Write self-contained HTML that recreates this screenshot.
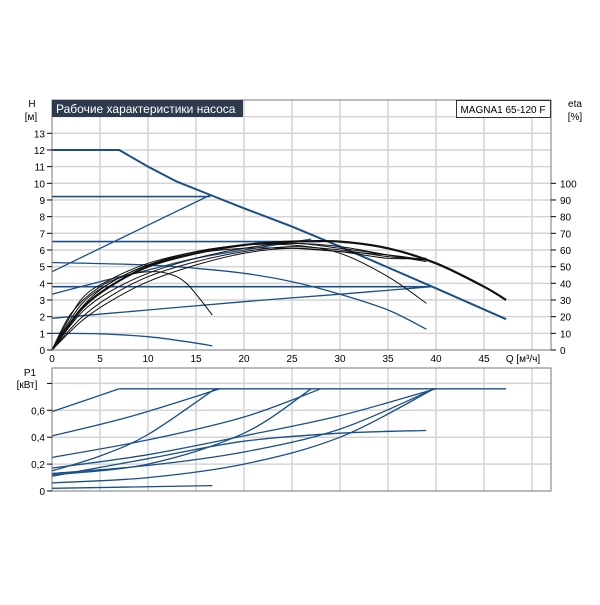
<!DOCTYPE html>
<html><head><meta charset="utf-8"><style>
body{margin:0;background:#fff;}
svg{font-family:"Liberation Sans","Noto Sans CJK SC",sans-serif;}
</style></head><body>
<svg id="c" width="600" height="600" viewBox="0 0 600 600"></svg>
<script>
const qTicks=[0,5,10,15,20,25,30,35,40,45];
const hTicks=[0,1,2,3,4,5,6,7,8,9,10,11,12,13];
const etaTicks=[0,10,20,30,40,50,60,70,80,90,100];
const pTicks=[0,0.2,0.4,0.6,0.8];
const pTickLabels=["0","0,2","0,4","0,6",""];
// head curves [Q,H]
const hMax=[[0,12],[7,12],[10,11],[13,10.1],[16.5,9.3],[20,8.5],[25,7.4],[30,6.2],[35,4.95],[40,3.7],[47.3,1.85]];
const hConst1=[[0,9.2],[16.5,9.2]];
const hProp1=[[0,4.7],[16.5,9.3]];
const hConst2=[[0,6.5],[28,6.5]];
const hProp2=[[0,3.35],[5,4.1],[10,4.8],[15,5.5],[20,6.0],[27,6.65]];
const hConst3=[[0,3.8],[39.5,3.8]];
const hProp3=[[0,1.9],[10,2.4],[20,2.9],[30,3.35],[39.5,3.8]];
const hMid=[[0,5.25],[10,5.1],[15,4.9],[20,4.6],[25,4.1],[30,3.35],[35,2.4],[39,1.25]];
const hMin=[[0,1.0],[5,0.97],[10,0.8],[14,0.5],[16.7,0.25]];
const headSeries=[hMax,hConst1,hProp1,hConst2,hProp2,hConst3,hProp3,hMid,hMin];
const headWidths=[2,1.6,1.3,1.6,1.3,1.6,1.3,1.3,1.3];
// efficiency curves [Q,eta%]
const etaMain=[[0,0],[3,24],[6,38],[10,50],[15,58],[20,63],[25,65],[30,65],[35,61],[40,52],[45,38],[47.3,30]];
const etaShort=[[0,0],[2,22],[5,38],[8,45],[10,47],[12,46],[14,40],[16.7,21]];
const etaEnd39=[[0,0],[3,25],[6,40],[10,51],[15,59],[20,63],[25,63],[30,58],[35,44],[39,28]];
const etaA=[[0,0],[3,27],[6,40],[10,51],[15,58],[20,61],[25,61],[30,59],[35,57],[39,54]];
const etaB=[[0,0],[3,22],[6,35],[10,46],[15,55],[20,61],[25,64],[30,61],[35,57],[39,54]];
const etaC=[[0,0],[3,19],[6,32],[10,44],[15,53],[20,59],[25,62],[30,60],[35,56],[39,54]];
const etaD=[[0,0],[3,17],[6,29],[10,41],[15,51],[20,58],[25,61],[30,59],[35,55],[39,55]];
const etaE=[[0,0],[3,30],[6,42],[10,52],[15,59],[20,63],[25,64],[30,62],[35,57],[39,53]];
const etaSeries=[etaMain,etaShort,etaEnd39,etaA,etaB,etaC,etaD,etaE];
const etaWidths=[2.2,1,1,1,1,1,1,1];
// power curves [Q,P1 kW]
const pFlat=[[7,0.76],[47.3,0.76]];
const p1=[[0,0.59],[7,0.76]];
const p2=[[0,0.41],[8,0.55],[17.5,0.76]];
const p3=[[0,0.15],[5,0.26],[10,0.42],[17,0.76]];
const p4=[[0,0.25],[10,0.38],[20,0.55],[28,0.76]];
const p5=[[0,0.12],[10,0.2],[20,0.43],[27,0.76]];
const p6=[[0,0.17],[10,0.27],[20,0.41],[30,0.56],[40,0.76]];
const p7=[[0,0.13],[10,0.19],[20,0.29],[30,0.46],[39.8,0.76]];
const p8=[[0,0.06],[10,0.1],[20,0.2],[30,0.4],[39.8,0.76]];
const p9=[[0,0.11],[10,0.24],[20,0.37],[30,0.43],[39,0.45]];
const p10=[[0,0.02],[16.7,0.04]];
const powerSeries=[pFlat,p1,p2,p3,p4,p5,p6,p7,p8,p9,p10];

const X0=52,XS=9.6;
const xQ=q=>X0+q*XS;
const yH=h=>350-h*16.67;
const yE=e=>350-e*1.667;
const yP=p=>491-p*134.5;
const svg=document.getElementById('c');
const NS='http://www.w3.org/2000/svg';
function mk(tag,attrs,parent){const e=document.createElementNS(NS,tag);for(const k in attrs)e.setAttribute(k,attrs[k]);(parent||svg).appendChild(e);return e;}
function txt(x,y,s,anchor,size,fill){const t=mk('text',{x:x,y:y,'text-anchor':anchor||'start','font-size':size||10,fill:fill||'#000'});t.textContent=s;return t;}
function linear(pts,fx,fy){return pts.map((p,i)=>(i?'L':'M')+fx(p[0]).toFixed(1)+','+fy(p[1]).toFixed(1)).join(' ');}
function smooth(pts,fx,fy){let d='M'+fx(pts[0][0]).toFixed(1)+','+fy(pts[0][1]).toFixed(1);
 for(let i=0;i<pts.length-1;i++){const p0=pts[Math.max(0,i-1)],p1=pts[i],p2=pts[i+1],p3=pts[Math.min(pts.length-1,i+2)];
  const c1x=fx(p1[0])+(fx(p2[0])-fx(p0[0]))/6,c1y=fy(p1[1])+(fy(p2[1])-fy(p0[1]))/6;
  const c2x=fx(p2[0])-(fx(p3[0])-fx(p1[0]))/6,c2y=fy(p2[1])-(fy(p3[1])-fy(p1[1]))/6;
  d+=' C'+c1x.toFixed(1)+','+c1y.toFixed(1)+' '+c2x.toFixed(1)+','+c2y.toFixed(1)+' '+fx(p2[0]).toFixed(1)+','+fy(p2[1]).toFixed(1);}
 return d;}

// top plot
const gTop=mk('g',{});


mk('rect',{x:52,y:100,width:499,height:250,fill:'#fff'},gTop);
for(let q=5;q<=50;q+=5){const l=mk('line',{x1:xQ(q),x2:xQ(q),y1:100,y2:350,stroke:'#d4d4d4','stroke-width':1.5},gTop);}
for(let h=1;h<=14;h++){const l=mk('line',{x1:52,x2:551,y1:yH(h),y2:yH(h),stroke:'#d4d4d4','stroke-width':1.5},gTop);}
headSeries.forEach((s,i)=>{const p=mk('path',{d:(i===0?linear(s,xQ,yH):smooth(s,xQ,yH)),fill:'none',stroke:'#1a4f8a','stroke-width':headWidths[i]},gTop);});
etaSeries.forEach((s,i)=>{const p=mk('path',{d:smooth(s,xQ,yE),fill:'none',stroke:'#111','stroke-width':etaWidths[i]},gTop);});
mk('rect',{x:52,y:100,width:499,height:250,fill:'none',stroke:'#777','stroke-width':1},gTop);
hTicks.forEach(h=>{mk('line',{x1:47,x2:52,y1:yH(h),y2:yH(h),stroke:'#000'});const t=txt(45,yH(h)+4,String(h),'end',10);});
etaTicks.forEach(e=>{mk('line',{x1:551,x2:556,y1:yE(e),y2:yE(e),stroke:'#000'});const t=txt(560,yE(e)+4,String(e),'start',10);});
qTicks.forEach(q=>{const t=txt(xQ(q),362,String(q),'middle',10);});
let t;
t=txt(523,362,'Q [м³/ч]','middle',10);
t=txt(32,107,'H','middle',10);
t=txt(31,120,'[м]','middle',10);
t=txt(575,107,'eta','middle',10);
t=txt(575,120,'[%]','middle',10);
let r=mk('rect',{x:52,y:100,width:191,height:17,fill:'#2e3b4e'});
t=txt(56,113,'Рабочие характеристики насоса','start',12,'#fff');
r=mk('rect',{x:456.5,y:100.5,width:94,height:17,fill:'#fff',stroke:'#333'});
t=txt(503,113,'MAGNA1 65-120 F','middle',10);

// bottom plot
const gB=mk('g',{});


for(let q=5;q<=50;q+=5){const l=mk('line',{x1:xQ(q),x2:xQ(q),y1:368,y2:491,stroke:'#d4d4d4','stroke-width':1.5},gB);}
pTicks.forEach(p=>{if(p>0){const l=mk('line',{x1:52,x2:551,y1:yP(p),y2:yP(p),stroke:'#d4d4d4','stroke-width':1.5},gB);}});
powerSeries.forEach(s=>{const p=mk('path',{d:smooth(s,xQ,yP),fill:'none',stroke:'#1a4f8a','stroke-width':1.3},gB);});
mk('rect',{x:52,y:368,width:499,height:123,fill:'none',stroke:'#777','stroke-width':1},gB);
pTicks.forEach((p,i)=>{mk('line',{x1:47,x2:52,y1:yP(p),y2:yP(p),stroke:'#000'});const tt=txt(45,yP(p)+4,pTickLabels[i],'end',10);});
t=txt(30,376,'P1','middle',10);
t=txt(27,388,'[кВт]','middle',10);
</script>
</body></html>
